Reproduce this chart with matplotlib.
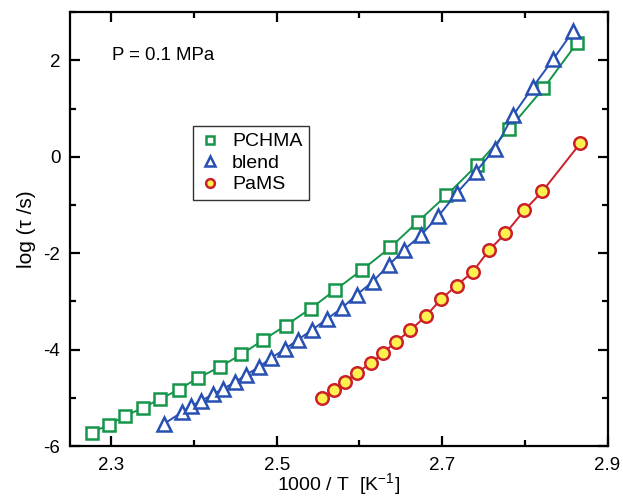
import matplotlib
matplotlib.use("Agg")
import matplotlib.pyplot as plt
from matplotlib.ticker import FixedLocator

plt.rcParams['font.family'] = ['Liberation Sans', 'DejaVu Sans']
plt.rcParams['axes.unicode_minus'] = False

# PCHMA
pchma_x = [2.2763, 2.2970, 2.3163, 2.3378, 2.3594, 2.3817, 2.4045, 2.4312, 2.4570,
           2.4828, 2.5108, 2.5409, 2.5701, 2.6036, 2.6373, 2.6704, 2.7052, 2.7422,
           2.7810, 2.8225, 2.8635]
pchma_y = [-5.72, -5.56, -5.38, -5.21, -5.02, -4.83, -4.59, -4.36, -4.10,
           -3.81, -3.50, -3.15, -2.77, -2.34, -1.88, -1.35, -0.80, -0.17,
           0.58, 1.42, 2.37]

# blend
blend_x = [2.3637, 2.3852, 2.3968, 2.4088, 2.4226, 2.4355, 2.4492, 2.4634, 2.4785,
           2.4935, 2.5099, 2.5258, 2.5430, 2.5602, 2.5787, 2.5968, 2.6161, 2.6352,
           2.6540, 2.6746, 2.6955, 2.7178, 2.7408, 2.7637, 2.7862, 2.8097, 2.8346,
           2.8588]
blend_y = [-5.54, -5.30, -5.17, -5.06, -4.93, -4.81, -4.68, -4.52, -4.36,
           -4.17, -3.99, -3.79, -3.59, -3.37, -3.14, -2.86, -2.59, -2.25,
           -1.93, -1.62, -1.23, -0.75, -0.31, 0.17, 0.87, 1.45, 2.03,
           2.62]

# PaMS
pams_x = [2.5551, 2.5688, 2.5826, 2.5968, 2.6140, 2.6286, 2.6440, 2.6613, 2.6800,
          2.6988, 2.7175, 2.7368, 2.7570, 2.7766, 2.7995, 2.8213, 2.8673]
pams_y = [-5.01, -4.83, -4.67, -4.48, -4.28, -4.07, -3.84, -3.60, -3.31,
          -2.95, -2.67, -2.39, -1.93, -1.59, -1.11, -0.715, 0.286]

x_ticks = [2.3, 2.5, 2.7, 2.9]
x_ticklabels = ['2.3', '2.5', '2.7', '2.9']
y_ticks = [-6, -4, -2, 0, 2]
y_ticklabels = ['-6', '-4', '-2', '0', '2']

green = '#14954a'
blue = '#2850b2'
red = '#cc1f2a'
yellow = '#fff250'

fig = plt.figure(figsize=(6.23, 4.98), dpi=100)
ax = fig.add_axes([70/623, 1 - 446/498, (607.5 - 70)/623, (446 - 12.3)/498])

ax.plot(pchma_x, pchma_y, '-', color=green, lw=1.4, marker='s', ms=8.5,
        mfc='white', mec=green, mew=1.8, label='PCHMA')
ax.plot(blend_x, blend_y, '-', color=blue, lw=1.4, marker='^', ms=10.5,
        mfc='white', mec=blue, mew=1.8, label='blend')
ax.plot(pams_x, pams_y, '-', color=red, lw=1.4, marker='o', ms=9,
        mfc=yellow, mec=red, mew=1.8, label='PaMS')

ax.set_xlim(2.25, 2.9)
ax.set_ylim(-6, 3)
ax.xaxis.set_major_locator(FixedLocator(x_ticks))
ax.xaxis.set_minor_locator(FixedLocator([2.4, 2.6, 2.8]))
ax.set_xticklabels(x_ticklabels)
ax.yaxis.set_major_locator(FixedLocator(y_ticks))
ax.yaxis.set_minor_locator(FixedLocator([-5, -3, -1, 1, 3]))
ax.set_yticklabels(y_ticklabels)

ax.tick_params(which='both', direction='in', top=True, right=True, width=1.6,
               labelsize=13.5)
ax.tick_params(axis='x', which='major', pad=8)
ax.tick_params(axis='y', which='major', pad=7)
ax.tick_params(which='major', length=7)
ax.tick_params(which='minor', length=4)
for s in ax.spines.values():
    s.set_linewidth(1.6)

ax.set_xlabel('1000 / T  [K$^{\\mathregular{-1}}$]', fontsize=14)
ax.xaxis.set_label_coords(0.5, -0.058)
ax.set_ylabel('log (\u03c4 /s)', fontsize=15, labelpad=5)

ax.text(0.079, 0.901, 'P = 0.1 MPa', transform=ax.transAxes, fontsize=13.4,
        ha='left', va='center')

leg = ax.legend(loc='upper left', bbox_to_anchor=((193 - 70)/537.5, (446 - 126)/433.7),
                borderaxespad=0, fontsize=14, frameon=True, fancybox=False,
                handlelength=1.0, handletextpad=0.65, borderpad=0.35,
                labelspacing=0.2, markerscale=0.7)
leg.get_frame().set_edgecolor('black')
leg.get_frame().set_linewidth(1.0)
for line in leg.get_lines():
    line.set_linestyle('None')

fig.savefig('out.png', dpi=100)
